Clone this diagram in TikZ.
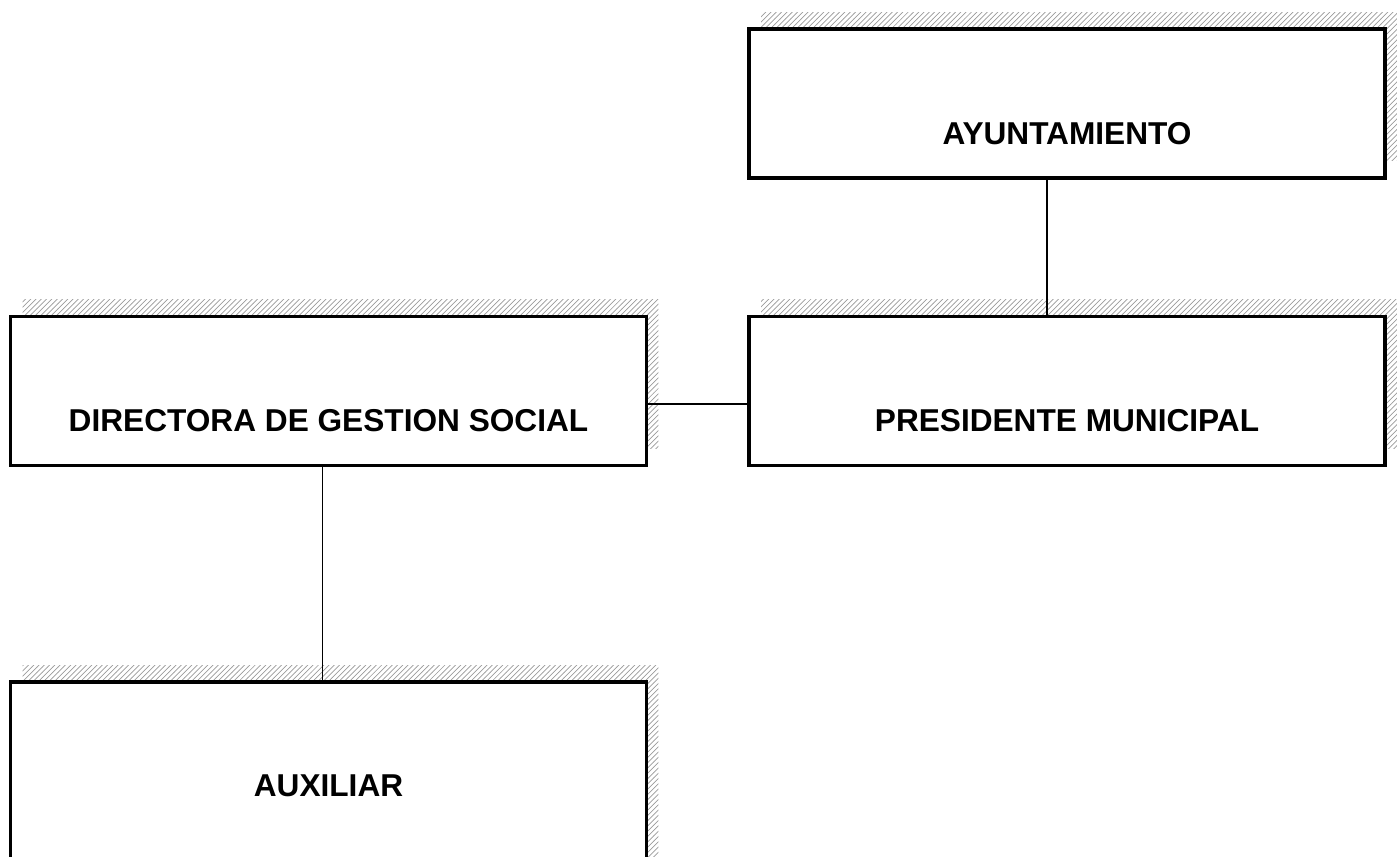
\documentclass[tikz,border=0pt]{standalone}
\usepackage{fontspec}
\setmainfont{Liberation Sans}
\usepackage{xcolor}
\usepackage{tikz}
\usetikzlibrary{calc,positioning,shadows,patterns}
\definecolor{InkBlack}{HTML}{000000}
\definecolor{HatchGray}{HTML}{9A9A9A}

\tikzset{
  orgbox/.style={draw=InkBlack,line width=2pt,fill=white,minimum width=12.72cm,minimum height=2.98cm,inner sep=0pt,
    general shadow={shadow xshift=0.24cm,shadow yshift=0.34cm,pattern=north east lines,pattern color=HatchGray}},
  orgtext/.style={font=\fontsize{18}{21}\selectfont\bfseries,text=InkBlack,inner sep=0pt},
  link/.style={draw=InkBlack,line width=0.6pt}
}

\begin{document}
\begin{tikzpicture}[x=0.02cm,y=-0.02cm]
  \useasboundingbox (0,0) rectangle (1398,857);
  \clip (0,0) rectangle (1398,857);
  % boxes
  \node[orgbox] (ayto) at (1067,103.5) {};
  \node[orgbox] (pres) at (1067,391) {};
  \node[orgbox] (dir) at (328.5,391) {};
  \node[orgbox,minimum height=4.12cm] (aux) at (328.5,785) {};
  % texts
  \node[orgtext] (aytoT) at ([yshift=-2.12cm]ayto.north) {AYUNTAMIENTO};
  \node[orgtext] (presT) at ([yshift=-2.12cm]pres.north) {PRESIDENTE MUNICIPAL};
  \node[orgtext] (dirT) at ([yshift=-2.12cm]dir.north) {DIRECTORA DE GESTION SOCIAL};
  \node[orgtext] (auxT) at ([yshift=-2.12cm]aux.north) {AUXILIAR};
  % connectors
  \draw[link] ([xshift=-0.4cm]ayto.south) -- ([xshift=-0.4cm]pres.north);
  \draw[link] ([yshift=-0.26cm]dir.east) -- ([yshift=-0.26cm]pres.west);
  \draw[link] ([xshift=-0.12cm]dir.south) -- ([xshift=-0.12cm]aux.north);
\end{tikzpicture}
\end{document}
